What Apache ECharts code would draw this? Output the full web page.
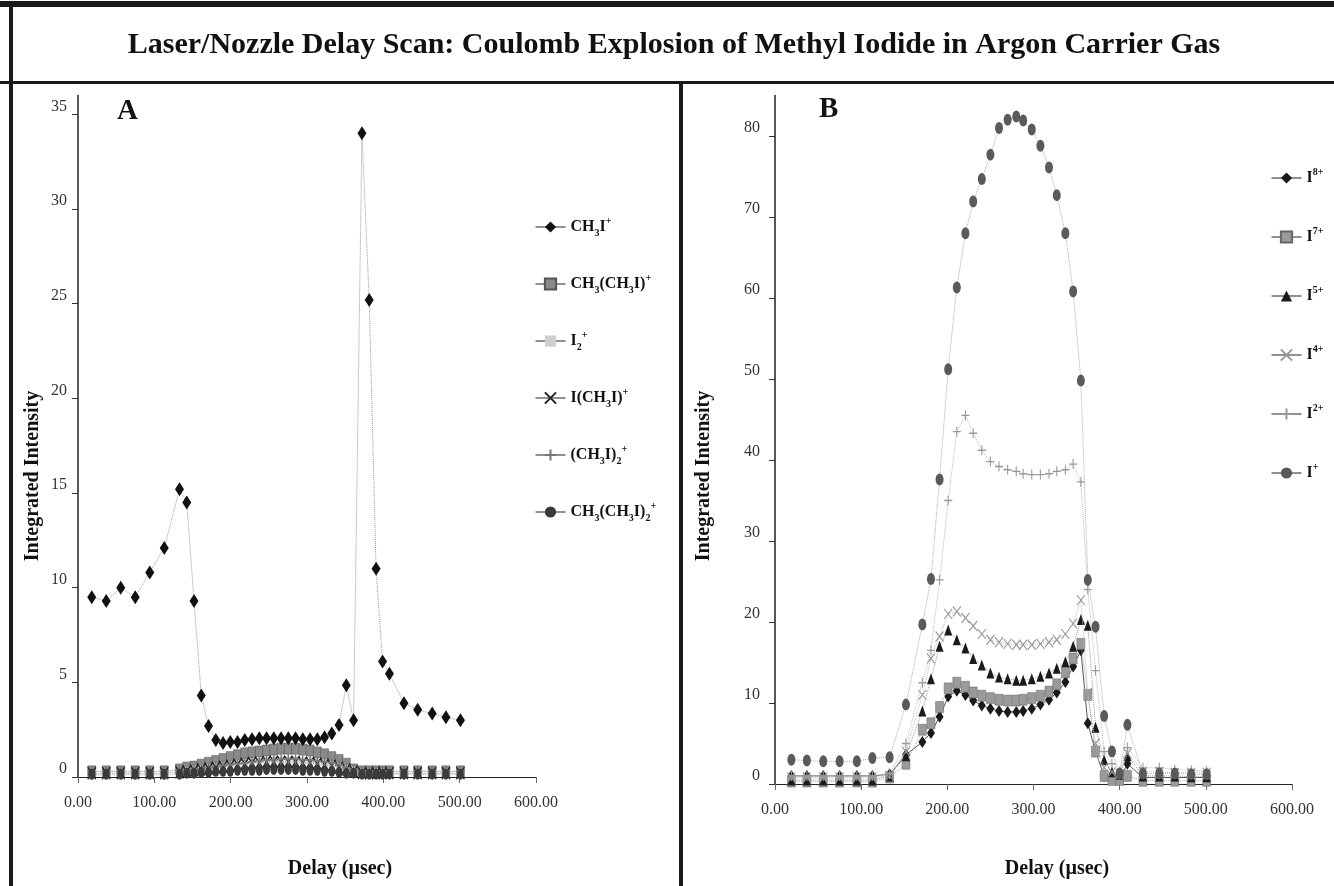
<!DOCTYPE html>
<html>
<head>
<meta charset="utf-8">
<script src="https://cdn.jsdelivr.net/npm/echarts@6/dist/echarts.min.js"></script>
<style>
html,body{margin:0;padding:0;background:#fff;}
#c{width:1334px;height:886px;}
</style>
</head>
<body>
<div id="c"></div>
<script>
// ---------- DATA ----------
const delaysA = [18, 37, 56, 75, 94, 113, 133, 142.5, 152, 161.5, 171, 180.5, 190, 199.5, 209, 218.5, 228, 237.5, 247, 256.5, 266, 275.5, 285, 294.5, 304, 313.5, 323, 332.5, 342, 351.5, 361, 372, 381.5, 390.5, 399, 408, 427, 445, 464, 482, 501];
const ch3iA     = [9.5, 9.3, 10.0, 9.5, 10.8, 12.1, 15.2, 14.5, 9.3, 4.3, 2.7, 1.95, 1.8, 1.85, 1.85, 1.95, 2.0, 2.05, 2.05, 2.05, 2.05, 2.05, 2.05, 2.0, 2.0, 2.0, 2.1, 2.3, 2.75, 4.85, 3.0, 34.0, 25.2, 11.0, 6.1, 5.45, 3.9, 3.55, 3.35, 3.15, 3.0];
const ch3ch3iA  = [0.3, 0.3, 0.3, 0.3, 0.3, 0.3, 0.4, 0.5, 0.55, 0.65, 0.75, 0.85, 0.95, 1.05, 1.15, 1.25, 1.3, 1.35, 1.4, 1.45, 1.5, 1.5, 1.5, 1.45, 1.4, 1.3, 1.2, 1.05, 0.9, 0.7, 0.4, 0.3, 0.3, 0.3, 0.3, 0.3, 0.3, 0.3, 0.3, 0.3, 0.3];
const i2A       = [0.1, 0.1, 0.1, 0.1, 0.1, 0.1, 0.15, 0.3, 0.35, 0.4, 0.45, 0.5, 0.55, 0.6, 0.65, 0.7, 0.75, 0.8, 0.8, 0.85, 0.85, 0.85, 0.85, 0.8, 0.8, 0.75, 0.7, 0.6, 0.5, 0.4, 0.3, 0.2, 0.2, 0.2, 0.2, 0.2, 0.15, 0.15, 0.15, 0.15, 0.15];
const ich3iA    = [0.2, 0.2, 0.2, 0.2, 0.2, 0.2, 0.25, 0.3, 0.35, 0.4, 0.45, 0.5, 0.55, 0.6, 0.65, 0.7, 0.75, 0.75, 0.8, 0.8, 0.8, 0.8, 0.8, 0.75, 0.75, 0.7, 0.65, 0.6, 0.5, 0.4, 0.3, 0.2, 0.2, 0.2, 0.2, 0.2, 0.2, 0.2, 0.2, 0.2, 0.2];
const ch3i2A    = [0.3, 0.3, 0.3, 0.3, 0.3, 0.3, 0.35, 0.35, 0.4, 0.45, 0.5, 0.55, 0.6, 0.65, 0.7, 0.75, 0.8, 0.85, 0.9, 0.9, 0.95, 0.95, 0.95, 0.9, 0.9, 0.85, 0.8, 0.75, 0.65, 0.5, 0.4, 0.3, 0.3, 0.3, 0.3, 0.3, 0.3, 0.3, 0.3, 0.3, 0.3];
const ch3ch3i2A = [0.15, 0.15, 0.15, 0.15, 0.15, 0.15, 0.15, 0.2, 0.2, 0.25, 0.25, 0.3, 0.3, 0.3, 0.35, 0.35, 0.35, 0.35, 0.4, 0.4, 0.4, 0.4, 0.4, 0.35, 0.35, 0.35, 0.3, 0.3, 0.25, 0.2, 0.2, 0.15, 0.15, 0.15, 0.15, 0.15, 0.15, 0.15, 0.15, 0.15, 0.15];

const delaysB = [19, 37, 56, 75, 95, 113, 133, 152, 171, 181, 191, 201, 211, 221, 230, 240, 250, 260, 270, 280, 288, 298, 308, 318, 327, 337, 346, 355, 363, 372, 382, 391, 400, 409, 427, 446, 464, 483, 501];
const i8B = [1.0, 1.0, 1.0, 1.0, 1.0, 1.0, 1.2, 3.6, 5.2, 6.3, 8.3, 10.8, 11.5, 11.0, 10.3, 9.7, 9.3, 9.0, 8.9, 8.9, 9.0, 9.3, 9.8, 10.4, 11.3, 12.6, 14.5, 16.5, 7.5, 4.0, 1.0, 0.8, 0.5, 2.5, 0.8, 0.8, 0.8, 0.8, 0.8];
const i7B = [0.3, 0.3, 0.3, 0.3, 0.3, 0.3, 0.8, 2.5, 6.7, 7.5, 9.5, 11.8, 12.5, 12.0, 11.3, 10.9, 10.6, 10.4, 10.3, 10.3, 10.4, 10.6, 10.9, 11.4, 12.3, 13.8, 15.5, 17.3, 11.0, 4.0, 1.0, 0.5, 0.5, 1.0, 0.4, 0.4, 0.4, 0.4, 0.4];
const i5B = [0.5, 0.5, 0.5, 0.5, 0.5, 0.5, 1.0, 3.5, 9.0, 13.0, 17.0, 19.0, 17.8, 16.8, 15.5, 14.7, 13.7, 13.2, 13.0, 12.8, 12.8, 13.0, 13.3, 13.7, 14.3, 15.1, 17.0, 20.3, 19.6, 7.0, 3.0, 1.5, 1.2, 3.5, 1.0, 1.0, 1.0, 0.9, 0.9];
const i4B = [0.8, 0.8, 0.8, 0.8, 0.8, 0.8, 1.0, 4.0, 11.0, 15.5, 18.2, 21.0, 21.3, 20.5, 19.5, 18.5, 17.8, 17.5, 17.3, 17.2, 17.2, 17.2, 17.3, 17.5, 17.8, 18.5, 19.8, 22.7, 11.2, 5.0, 2.0, 1.5, 1.2, 3.8, 1.5, 1.5, 1.4, 1.4, 1.4];
const i2B = [1.0, 1.0, 1.0, 1.0, 1.0, 1.0, 1.2, 5.0, 12.5, 16.5, 25.2, 35.0, 43.5, 45.5, 43.3, 41.2, 39.8, 39.2, 38.8, 38.6, 38.3, 38.2, 38.2, 38.3, 38.6, 38.8, 39.5, 37.3, 24.0, 14.0, 4.0, 2.5, 1.5, 4.5, 2.0, 2.0, 1.8, 1.7, 1.6];
const i1B = [3.0, 2.9, 2.8, 2.8, 2.8, 3.2, 3.3, 9.8, 19.7, 25.3, 37.6, 51.2, 61.3, 68.0, 71.9, 74.7, 77.7, 81.0, 82.0, 82.4, 81.9, 80.8, 78.8, 76.1, 72.7, 68.0, 60.8, 49.8, 25.2, 19.4, 8.4, 4.0, 1.3, 7.3, 1.3, 1.3, 1.3, 1.2, 1.2];

const xTicks = [0, 100, 200, 300, 400, 500, 600];
const yTicksA = [0, 5, 10, 15, 20, 25, 30, 35];
const yTicksB = [0, 10, 20, 30, 40, 50, 60, 70, 80];

const namesA = ['CH3I+', 'CH3(CH3I)+', 'I2+', 'I(CH3I)+', '(CH3I)2+', 'CH3(CH3I)2+'];
const namesB = ['I8+', 'I7+', 'I5+', 'I4+', 'I2+ ', 'I+'];

// ---------- STYLE ----------
const SERIF = '"Liberation Serif", "DejaVu Serif", serif';
const richLabels = {
  'CH3I+': '{n|CH}{sb|3}{n|I}{sp|+}',
  'CH3(CH3I)+': '{n|CH}{sb|3}{n|(CH}{sb|3}{n|I)}{sp|+}',
  'I2+': '{n|I}{sb|2}{sp|+}',
  'I(CH3I)+': '{n|I(CH}{sb|3}{n|I)}{sp|+}',
  '(CH3I)2+': '{n|(CH}{sb|3}{n|I)}{sb|2}{sp|+}',
  'CH3(CH3I)2+': '{n|CH}{sb|3}{n|(CH}{sb|3}{n|I)}{sb|2}{sp|+}',
  'I8+': '{n|I}{sp|8+}',
  'I7+': '{n|I}{sp|7+}',
  'I5+': '{n|I}{sp|5+}',
  'I4+': '{n|I}{sp|4+}',
  'I2+ ': '{n|I}{sp|2+}',
  'I+': '{n|I}{sp|+}'
};
const rich = {
  n: {fontFamily: SERIF, fontWeight: 'bold', fontSize: 16, color: '#111', lineHeight: 22},
  sb: {fontFamily: SERIF, fontWeight: 'bold', fontSize: 10, color: '#111', lineHeight: 11, verticalAlign: 'bottom'},
  sp: {fontFamily: SERIF, fontWeight: 'bold', fontSize: 10, color: '#111', lineHeight: 11, verticalAlign: 'top'}
};

const X_PATH = 'path://M0,0L10,10M10,0L0,10';
const PLUS_PATH = 'path://M5,0L5,10M0,5L10,5';

function mk(name, xs, ys, idx, o) {
  return {
    name: name, type: 'line', xAxisIndex: idx, yAxisIndex: idx,
    data: xs.map((d, i) => [d, ys[i]]),
    symbol: o.symbol, symbolSize: o.size,
    lineStyle: {color: o.line || '#aaa', width: 1, type: o.lineType || 'dotted'},
    itemStyle: {color: o.color, borderColor: o.border || o.color, borderWidth: o.bw || 0},
    emphasis: {disabled: true}, animation: false, z: o.z
  };
}

const series = [
  mk('CH3I+', delaysA, ch3iA, 0, {symbol: 'diamond', size: [9, 14], color: '#111', line: '#999', z: 8}),
  mk('CH3(CH3I)+', delaysA, ch3ch3iA, 0, {symbol: 'rect', size: [8, 11], color: '#8a8a8a', border: '#555', bw: 0.5, line: '#999', z: 3}),
  mk('I2+', delaysA, i2A, 0, {symbol: 'rect', size: [6, 9], color: '#cfcfcf', line: '#ccc', z: 4}),
  mk('I(CH3I)+', delaysA, ich3iA, 0, {symbol: X_PATH, size: [8, 12], color: '#222', border: '#222', bw: 1.5, line: '#999', z: 5}),
  mk('(CH3I)2+', delaysA, ch3i2A, 0, {symbol: PLUS_PATH, size: [8, 10], color: '#777', border: '#777', bw: 1.5, line: '#bbb', z: 6}),
  mk('CH3(CH3I)2+', delaysA, ch3ch3i2A, 0, {symbol: 'circle', size: [7, 11], color: '#3a3a3a', line: '#bbb', z: 7}),

  mk('I8+', delaysB, i8B, 1, {symbol: 'diamond', size: [8, 12], color: '#1a1a1a', line: '#555', lineType: 'solid', z: 2}),
  mk('I7+', delaysB, i7B, 1, {symbol: 'rect', size: [8, 11], color: '#9a9a9a', border: '#666', bw: 0.5, line: '#aaa', z: 3}),
  mk('I5+', delaysB, i5B, 1, {symbol: 'triangle', size: [8, 11], color: '#1a1a1a', line: '#999', z: 4}),
  mk('I4+', delaysB, i4B, 1, {symbol: X_PATH, size: [8, 10], color: '#999', border: '#999', bw: 1.2, line: '#bbb', z: 5}),
  mk('I2+ ', delaysB, i2B, 1, {symbol: PLUS_PATH, size: [8, 10], color: '#999', border: '#999', bw: 1.2, line: '#bbb', z: 6}),
  mk('I+', delaysB, i1B, 1, {symbol: 'circle', size: [8, 12], color: '#5a5a5a', line: '#aaa', z: 7})
];

function xAxisCfg(idx) {
  return {
    type: 'value', gridIndex: idx, min: 0, max: 600,
    axisLine: {lineStyle: {color: '#222', width: 1.2}},
    axisTick: {show: true, length: 6, customValues: xTicks, lineStyle: {color: '#666'}},
    axisLabel: {customValues: xTicks, formatter: v => v.toFixed(2), fontFamily: SERIF, fontSize: 16, color: '#333', margin: 18},
    splitLine: {show: false}
  };
}
function yAxisCfg(idx, max, ticks, margin) {
  return {
    type: 'value', gridIndex: idx, min: 0, max: max,
    axisLine: {show: true, lineStyle: {color: '#222', width: 1.5}},
    axisTick: {show: true, length: 6, customValues: ticks, lineStyle: {color: '#333'}},
    axisLabel: {customValues: ticks, fontFamily: SERIF, fontSize: 16, color: '#333', margin: margin, verticalAlign: 'bottom'},
    splitLine: {show: false}
  };
}

const legendBase = {
  orient: 'vertical', selectedMode: false, itemWidth: 30, itemHeight: 14, padding: 0,
  formatter: name => richLabels[name],
  textStyle: {rich: rich},
  lineStyle: {color: '#222', type: 'solid', width: 1}
};

const option = {
  animation: false,
  backgroundColor: '#fff',
  title: {
    text: 'Laser/Nozzle Delay Scan: Coulomb Explosion of Methyl Iodide in Argon Carrier Gas',
    left: 669, textAlign: 'center', top: 25,
    textStyle: {fontFamily: SERIF, fontWeight: 'bold', fontSize: 30, color: '#111'}
  },
  grid: [
    {left: 78, top: 95.5, width: 458, height: 681.5, outerBoundsMode: 'none'},
    {left: 775, top: 95.5, width: 517, height: 688.5, outerBoundsMode: 'none'}
  ],
  xAxis: [xAxisCfg(0), xAxisCfg(1)],
  yAxis: [yAxisCfg(0, 36, yTicksA, 11), yAxisCfg(1, 85, yTicksB, 15)],
  legend: [
    Object.assign({}, legendBase, {left: 535, top: 216, itemGap: 35, data: namesA}),
    Object.assign({}, legendBase, {left: 1271, top: 167, itemGap: 40, data: namesB})
  ],
  series: series,
  graphic: [
    {type: 'rect', shape: {x: 0, y: 1, width: 1334, height: 6}, style: {fill: '#1a1a1a'}, silent: true},
    {type: 'rect', shape: {x: 9, y: 1, width: 4, height: 885}, style: {fill: '#1a1a1a'}, silent: true},
    {type: 'rect', shape: {x: 0, y: 81, width: 1334, height: 3}, style: {fill: '#1a1a1a'}, silent: true},
    {type: 'rect', shape: {x: 679, y: 81, width: 4, height: 805}, style: {fill: '#1a1a1a'}, silent: true},
    {type: 'text', left: 117, top: 97, style: {text: 'A', font: 'bold 29px ' + SERIF, fill: '#111'}},
    {type: 'text', left: 819, top: 95, style: {text: 'B', font: 'bold 29px ' + SERIF, fill: '#111'}},
    {type: 'text', x: 33, y: 476, rotation: Math.PI / 2, style: {text: 'Integrated Intensity', font: 'bold 20px ' + SERIF, fill: '#111', align: 'center', verticalAlign: 'middle'}},
    {type: 'text', x: 704, y: 476, rotation: Math.PI / 2, style: {text: 'Integrated Intensity', font: 'bold 20px ' + SERIF, fill: '#111', align: 'center', verticalAlign: 'middle'}},
    {type: 'text', x: 340, y: 869, style: {text: 'Delay (\u00b5sec)', font: 'bold 20px ' + SERIF, fill: '#111', align: 'center', verticalAlign: 'middle'}},
    {type: 'text', x: 1057, y: 869, style: {text: 'Delay (\u00b5sec)', font: 'bold 20px ' + SERIF, fill: '#111', align: 'center', verticalAlign: 'middle'}}
  ]
};

const chart = echarts.init(document.getElementById('c'), null, {renderer: 'canvas'});
chart.setOption(option);
</script>
</body>
</html>
